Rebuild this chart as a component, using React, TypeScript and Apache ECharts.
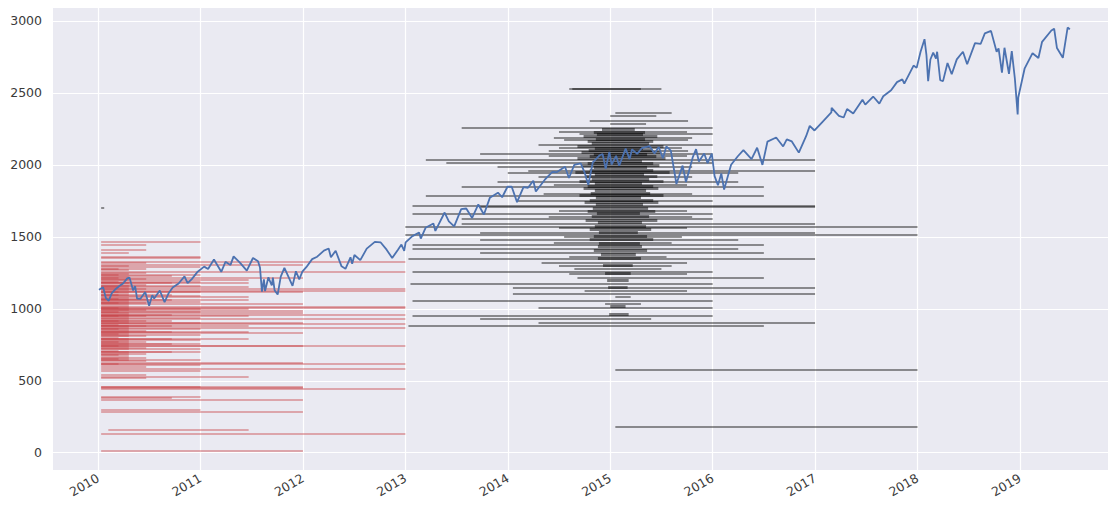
import React, { useEffect, useRef } from "react";
import * as echarts from "echarts";

// ---------- axis ticks ----------
const yearTicks = [2010, 2011, 2012, 2013, 2014, 2015, 2016, 2017, 2018, 2019];
const valueTicks = [0, 500, 1000, 1500, 2000, 2500, 3000];

// ---------- index (blue line) ----------
const spxDates = [
  "2010-01-04","2010-01-19","2010-01-29","2010-02-08","2010-02-19","2010-03-05","2010-03-19","2010-04-01","2010-04-15","2010-04-23",
  "2010-05-06","2010-05-13","2010-05-20","2010-06-01","2010-06-18","2010-07-02","2010-07-13","2010-07-20","2010-08-09","2010-08-26",
  "2010-09-10","2010-09-24","2010-10-15","2010-11-05","2010-11-16","2010-12-01","2010-12-22","2011-01-14","2011-01-28","2011-02-18",
  "2011-03-16","2011-03-31","2011-04-18","2011-04-29","2011-05-23","2011-06-15","2011-07-07","2011-07-25","2011-08-01","2011-08-08",
  "2011-08-15","2011-08-19","2011-08-31","2011-09-12","2011-09-16","2011-09-22","2011-10-03","2011-10-14","2011-10-27","2011-11-09",
  "2011-11-25","2011-12-07","2011-12-19","2011-12-30","2012-01-13","2012-02-03","2012-02-21","2012-03-16","2012-04-02","2012-04-10",
  "2012-04-27","2012-05-18","2012-06-01","2012-06-19","2012-06-25","2012-07-03","2012-07-24","2012-08-16","2012-09-14","2012-10-05",
  "2012-10-26","2012-11-15","2012-12-05","2012-12-18","2012-12-28","2013-01-02","2013-01-25","2013-02-19","2013-02-25","2013-03-14",
  "2013-04-11","2013-04-18","2013-05-21","2013-06-05","2013-06-24","2013-07-19","2013-08-06","2013-08-27","2013-09-18","2013-10-08",
  "2013-10-29","2013-11-27","2013-12-12","2013-12-31","2014-01-15","2014-02-03","2014-02-26","2014-03-14","2014-04-02","2014-04-11",
  "2014-05-13","2014-06-09","2014-06-24","2014-07-24","2014-08-07","2014-08-26","2014-09-18","2014-10-02","2014-10-15","2014-10-31",
  "2014-11-25","2014-12-05","2014-12-16","2014-12-29","2015-01-06","2015-01-22","2015-02-02","2015-02-25","2015-03-11","2015-03-20",
  "2015-04-07","2015-04-24","2015-05-21","2015-06-08","2015-06-23","2015-07-08","2015-07-20","2015-08-05","2015-08-25","2015-09-16",
  "2015-09-28","2015-10-22","2015-11-03","2015-11-13","2015-12-02","2015-12-14","2015-12-29","2016-01-08","2016-01-20","2016-02-01",
  "2016-02-11","2016-03-07","2016-03-31","2016-04-20","2016-05-19","2016-06-08","2016-06-27","2016-07-15","2016-08-15","2016-09-09",
  "2016-09-22","2016-10-10","2016-11-04","2016-11-30","2016-12-13","2016-12-30","2017-01-26","2017-02-28","2017-03-01","2017-03-27",
  "2017-04-13","2017-04-25","2017-05-17","2017-06-19","2017-06-29","2017-07-27","2017-08-18","2017-09-01","2017-09-29","2017-10-20",
  "2017-11-08","2017-11-15","2017-12-18","2017-12-29","2018-01-12","2018-01-26","2018-02-02","2018-02-08","2018-02-16","2018-02-26",
  "2018-03-08","2018-03-12","2018-03-23","2018-04-02","2018-04-18","2018-05-03","2018-05-21","2018-06-12","2018-06-27","2018-07-25",
  "2018-08-14","2018-08-29","2018-09-20","2018-10-10","2018-10-17","2018-10-29","2018-11-07","2018-11-23","2018-12-03","2018-12-14",
  "2018-12-24","2018-12-26","2019-01-18","2019-02-15","2019-03-08","2019-03-21","2019-04-23","2019-05-03","2019-05-13","2019-06-03",
  "2019-06-20","2019-06-28"
];
const spxValues = [
  1133,1150,1074,1056,1109,1138,1160,1178,1211,1217,
  1128,1157,1071,1070,1117,1022,1095,1071,1127,1047,
  1110,1148,1176,1225,1178,1206,1258,1293,1276,1343,
  1257,1326,1305,1364,1317,1265,1353,1331,1287,1119,
  1204,1123,1219,1162,1216,1129,1099,1224,1285,1229,
  1159,1261,1205,1258,1289,1345,1362,1404,1419,1358,
  1403,1295,1278,1358,1313,1374,1338,1418,1465,1461,
  1411,1353,1409,1446,1402,1462,1503,1530,1488,1563,
  1593,1541,1669,1608,1573,1692,1697,1631,1725,1655,
  1771,1807,1775,1848,1848,1741,1845,1841,1890,1815,
  1897,1951,1949,1987,1909,2000,2011,1946,1862,2018,
  2067,2075,1972,2090,2002,2063,1994,2113,2040,2108,
  2076,2117,2131,2079,2124,2046,2128,2099,1867,1995,
  1881,2052,2109,2023,2079,2012,2078,1922,1859,1940,
  1829,2001,2060,2102,2040,2119,2000,2162,2190,2128,
  2177,2163,2085,2199,2271,2239,2296,2364,2396,2341,
  2329,2388,2357,2453,2419,2475,2426,2477,2519,2575,
  2594,2565,2690,2674,2786,2873,2762,2581,2732,2780,
  2738,2786,2588,2582,2708,2630,2733,2786,2699,2846,
  2840,2914,2931,2786,2809,2641,2814,2633,2790,2600,
  2351,2468,2671,2776,2743,2855,2934,2946,2812,2744,
  2954,2942
];

// ---------- red segments (start 2010.03, grouped by end year) ----------
const redStart = 2010.03;
const redTo2010_20 = [1280,1240,1215,1190,1150,1120,1100,1070,1040,1010,980,950,920,890,860,830,800,770,740,710,680,650,620];
const redTo2010_30 = [1391,1300,1270,1245,1225,1200,1180,1160,1145,1130,1110,1095,1080,1065,1050,1035,1020,1005,990,975,960,945,930,915,900,885,870,855,840,825,810,795,780,765,750,735,720,705,690,675,660,645];
const redTo2010_47 = [1444,1410,1320,1280,1250,1210,1170,1140,1070,1040,990,950,920,880,850,810,770,730,690,660,640,600,540,520];
const redTo2010_72 = [1230,1180,1100,1060,960,920,880,840,790,760,700,380];
const redTo2011_00 = [1468,1361,1352,1290,1240,1190,1160,1120,1090,1050,1000,980,940,900,860,820,785,760,720,703,646,610,572,460,389,299];
const redTo2011_47 = [1201,1180,1150,1083,1060,1000,950,880,840,792,528];
const redTo2012_00 = [1306,1215,1118,1035,986,972,903,833,743,625,460,452,368,287,14];
const redTo2013_00 = [1326,1257,1139,1125,1014,1007,958,930,896,868,743,618,581,442,132];
const redLate = [[2010.1, 2011.47, 160]];

// ---------- black segments [start, end, level] ----------
const blackSegments = [
  [2014.6, 2015.5, 2526], [2014.63, 2015.3, 2526],
  [2015.05, 2015.6, 2359], [2015.0, 2015.45, 2340], [2014.8, 2015.76, 2308], [2015.0, 2015.35, 2285],
  [2013.55, 2016.0, 2255], [2014.7, 2016.0, 2215], [2014.55, 2015.76, 2174], [2014.3, 2016.0, 2139],
  [2014.4, 2015.76, 2099], [2013.2, 2017.0, 2039], [2013.4, 2016.0, 2012], [2013.9, 2015.8, 1984],
  [2014.0, 2016.25, 1947], [2013.55, 2016.5, 1845], [2013.2, 2016.5, 1785], [2013.73, 2017.0, 1710],
  [2013.07, 2017.0, 1715], [2013.07, 2016.0, 1660], [2013.55, 2016.0, 1623], [2013.55, 2017.0, 1590],
  [2013.0, 2018.0, 1572], [2013.73, 2017.0, 1525], [2013.0, 2018.0, 1514], [2013.73, 2016.25, 1479],
  [2013.07, 2016.5, 1444], [2013.07, 2016.25, 1415], [2013.73, 2016.5, 1387], [2013.03, 2017.0, 1345],
  [2014.33, 2015.75, 1322], [2014.5, 2015.6, 1299], [2013.07, 2016.0, 1259], [2014.6, 2015.75, 1243],
  [2014.68, 2016.5, 1213], [2013.05, 2016.0, 1174], [2014.05, 2017.0, 1144], [2014.75, 2015.75, 1127],
  [2014.05, 2017.0, 1104], [2015.05, 2015.2, 1081], [2013.07, 2016.0, 1058], [2014.95, 2015.3, 1035],
  [2014.3, 2016.0, 1005], [2013.07, 2016.0, 951], [2013.73, 2015.4, 928], [2014.3, 2017.0, 905],
  [2013.03, 2016.5, 882], [2015.05, 2018.0, 576], [2015.05, 2018.0, 178], [2010.03, 2010.06, 1701],
  [2013.73, 2016.0, 2076], [2014.2, 2017.0, 1961], [2013.9, 2016.25, 1880], [2014.1, 2016.0, 1750],
  [2014.5, 2015.75, 2230], [2014.45, 2015.8, 2190], [2014.5, 2015.7, 2120], [2014.4, 2015.75, 2060],
  [2014.3, 2015.8, 1920], [2014.45, 2015.75, 1860], [2014.35, 2015.8, 1800], [2014.5, 2015.75, 1680],
  [2014.4, 2015.8, 1640], [2014.5, 2015.75, 1560], [2014.55, 2015.7, 1500], [2014.45, 2015.6, 1460],
  [2014.6, 2015.55, 1365], [2014.65, 2015.5, 1280]
];

// dense core around early 2015 [start, end, level]
const blackCore = [
  [2014.92, 2015.24, 2245], [2014.84, 2015.34, 2228], [2014.87, 2015.32, 2212], [2014.74, 2015.46, 2196],
  [2014.86, 2015.34, 2180], [2014.78, 2015.42, 2163], [2014.82, 2015.38, 2150], [2014.68, 2015.52, 2132],
  [2014.85, 2015.32, 2118], [2014.79, 2015.41, 2104], [2014.72, 2015.49, 2088], [2014.84, 2015.36, 2072],
  [2014.80, 2015.45, 2058], [2014.68, 2015.54, 2044], [2014.85, 2015.31, 2028], [2014.78, 2015.42, 2012],
  [2014.72, 2015.48, 1998], [2014.84, 2015.36, 1982], [2014.80, 2015.42, 1966], [2014.66, 2015.58, 1950],
  [2014.85, 2015.33, 1935], [2014.76, 2015.46, 1918], [2014.82, 2015.38, 1902], [2014.70, 2015.52, 1886],
  [2014.85, 2015.31, 1870], [2014.78, 2015.42, 1854], [2014.74, 2015.47, 1838], [2014.85, 2015.35, 1822],
  [2014.81, 2015.39, 1806], [2014.70, 2015.52, 1790], [2014.86, 2015.30, 1772], [2014.80, 2015.42, 1756],
  [2014.75, 2015.47, 1740], [2014.86, 2015.32, 1724], [2014.83, 2015.37, 1700], [2014.78, 2015.44, 1680],
  [2014.87, 2015.29, 1662], [2014.82, 2015.38, 1640], [2014.76, 2015.46, 1618], [2014.88, 2015.31, 1598],
  [2014.85, 2015.35, 1575], [2014.80, 2015.40, 1552], [2014.89, 2015.27, 1530], [2014.84, 2015.36, 1505],
  [2014.80, 2015.42, 1482], [2014.89, 2015.29, 1458], [2014.88, 2015.31, 1432], [2014.84, 2015.36, 1405],
  [2014.91, 2015.25, 1378], [2014.88, 2015.30, 1350], [2014.93, 2015.22, 1300], [2014.95, 2015.20, 1250],
  [2014.97, 2015.18, 1200], [2014.98, 2015.17, 1150], [2015.00, 2015.15, 1020], [2014.99, 2015.18, 960]
];

function toYear(s: string): number {
  const [y, m, d] = s.split("-").map(Number);
  const a = Date.UTC(y, 0, 1);
  const b = Date.UTC(y + 1, 0, 1);
  return y + (Date.UTC(y, m - 1, d) - a) / (b - a);
}

function group(end: number, levels: number[]) {
  return levels.map((v) => ({ coords: [[redStart, v], [end, v]] }));
}

function seg(list: number[][]) {
  return list.map(([s, e, v]) => ({ coords: [[s, v], [e, v]] }));
}

export default function App() {
  const ref = useRef<HTMLDivElement>(null);
  useEffect(() => {
    if (!ref.current) return;
    const chart = echarts.init(ref.current, undefined, { renderer: "svg" });
    const redData = [
      ...group(2010.2, redTo2010_20),
      ...group(2010.3, redTo2010_30),
      ...group(2010.47, redTo2010_47),
      ...group(2010.72, redTo2010_72),
      ...group(2011.0, redTo2011_00),
      ...group(2011.47, redTo2011_47),
      ...group(2012.0, redTo2012_00),
      ...group(2013.0, redTo2013_00),
      ...seg(redLate),
    ];
    const lineData = spxDates.map((d, i) => [toYear(d), spxValues[i]]);
    const labelStyle = { color: "#3a3a3a", fontSize: 12.5, fontFamily: "DejaVu Sans" };
    chart.setOption({
      animation: false,
      backgroundColor: "#ffffff",
      grid: { left: 53, right: 2, top: 8, bottom: 38, show: true, backgroundColor: "#EAEAF2", borderWidth: 0 },
      xAxis: {
        type: "value",
        min: 2009.56,
        max: 2019.86,
        axisLine: { show: false },
        axisTick: { show: false, customValues: yearTicks },
        axisLabel: { ...labelStyle, customValues: yearTicks, rotate: 30, margin: 7, formatter: (v: number) => String(Math.round(v)) },
        splitLine: { show: true, lineStyle: { color: "#ffffff", width: 1.2 } },
      },
      yAxis: {
        type: "value",
        min: -120,
        max: 3090,
        axisLine: { show: false },
        axisTick: { show: false, customValues: valueTicks },
        axisLabel: { ...labelStyle, customValues: valueTicks, margin: 11, formatter: (v: number) => String(Math.round(v)) },
        splitLine: { show: true, lineStyle: { color: "#ffffff", width: 1.2 } },
      },
      series: [
        {
          type: "lines",
          coordinateSystem: "cartesian2d",
          polyline: false,
          silent: true,
          z: 2,
          lineStyle: { color: "rgb(200,70,75)", opacity: 0.42, width: 2 },
          data: redData,
        },
        {
          type: "lines",
          coordinateSystem: "cartesian2d",
          polyline: false,
          silent: true,
          z: 2,
          lineStyle: { color: "#000000", opacity: 0.42, width: 2 },
          data: seg(blackSegments),
        },
        {
          type: "lines",
          coordinateSystem: "cartesian2d",
          polyline: false,
          silent: true,
          z: 2,
          lineStyle: { color: "#000000", opacity: 0.5, width: 3 },
          data: seg(blackCore),
        },
        {
          type: "line",
          z: 3,
          showSymbol: false,
          symbol: "none",
          silent: true,
          lineStyle: { color: "#4C72B0", width: 1.8 },
          data: lineData,
        },
      ],
    });
    return () => chart.dispose();
  }, []);
  return <div ref={ref} style={{ position: "fixed", left: 0, top: 0, width: 1110, height: 508 }} />;
}
